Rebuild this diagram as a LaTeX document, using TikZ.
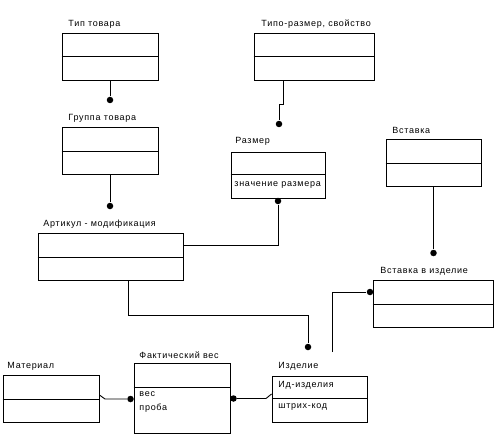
\documentclass[tikz,border=0pt]{standalone}
\usepackage{fontspec}
\setmainfont{Liberation Sans}[LetterSpace=8]
\usetikzlibrary{positioning}
\begin{document}
\begin{tikzpicture}[x=1pt, y=-1pt, line width=0.9pt,
    entity/.style={draw, rectangle, inner sep=0pt},
    dot/.style={circle, fill, inner sep=0pt, minimum size=6.5pt},
    enttitle/.style={anchor=west, inner sep=0pt, font=\fontsize{9}{10}\selectfont},
    attr/.style={anchor=west, inner sep=0pt, font=\fontsize{9}{10}\selectfont}]
  \useasboundingbox (0,0) rectangle (496,436);

  \node [entity, minimum width=96pt, minimum height=47pt] (tip) at (110,56.5) {};
  \draw (tip.west |- 0,56) -- (tip.east |- 0,56);
  \node [enttitle] (tipname) at (68,24) {Тип товара};

  \node [entity, minimum width=96pt, minimum height=47pt] (grp) at (110,150.5) {};
  \draw (grp.west |- 0,151) -- (grp.east |- 0,151);
  \node [enttitle] (grpname) at (68,118) {Группа товара};

  \node [entity, minimum width=120pt, minimum height=47pt] (tipo) at (314,56.5) {};
  \draw (tipo.west |- 0,56) -- (tipo.east |- 0,56);
  \node [enttitle] (tiponame) at (261,24) {Типо-размер, свойство};

  \node [entity, minimum width=94pt, minimum height=46pt] (razm) at (278,175) {};
  \draw (razm.west |- 0,174) -- (razm.east |- 0,174);
  \node [enttitle] (razmname) at (235,141) {Размер};
  \node [attr] (razmval) at (234,185) {значение размера};

  \node [entity, minimum width=95pt, minimum height=47pt] (vst) at (433.5,162.5) {};
  \draw (vst.west |- 0,163) -- (vst.east |- 0,163);
  \node [enttitle] (vstname) at (392,130) {Вставка};

  \node [entity, minimum width=120pt, minimum height=47pt] (vstizd) at (433,303.5) {};
  \draw (vstizd.west |- 0,304) -- (vstizd.east |- 0,304);
  \node [enttitle] (vstizdname) at (380,271) {Вставка в изделие};

  \node [entity, minimum width=145pt, minimum height=47pt] (art) at (110.5,256.5) {};
  \draw (art.west |- 0,257) -- (art.east |- 0,257);
  \node [enttitle] (artname) at (43,224) {Артикул - модификация};

  \node [entity, minimum width=95pt, minimum height=46pt] (izd) at (319.5,399) {};
  \draw (izd.west |- 0,398) -- (izd.east |- 0,398);
  \node [enttitle] (izdname) at (278,366) {Изделие};
  \node [attr] (izdid) at (278,385) {Ид-изделия};
  \node [attr] (izdcode) at (278,407) {штрих-код};

  \node [entity, minimum width=96pt, minimum height=70pt] (fakt) at (182,398) {};
  \draw (fakt.west |- 0,387) -- (fakt.east |- 0,387);
  \node [enttitle] (faktname) at (139,355) {Фактический вес};
  \node [attr] (faktves) at (139,394) {вес};
  \node [attr] (faktproba) at (139,408) {проба};

  \node [entity, minimum width=96pt, minimum height=47pt] (mat) at (51,398.5) {};
  \draw (mat.west |- 0,399) -- (mat.east |- 0,399);
  \node [enttitle] (matname) at (7,366) {Материал};

  \node [dot] (d1) at (110,100) {};
  \node [dot] (d2) at (279,124) {};
  \node [dot] (d3) at (278,201) {};
  \node [dot] (d4) at (433.5,253) {};
  \node [dot] (d5) at (370,292) {};
  \node [dot] (d6) at (308,347) {};
  \node [dot] (d7) at (130.5,399) {};
  \node [dot] (d8) at (233.5,398.5) {};
  \node [dot] (d9) at (110,206) {};
  \coordinate (j2) at (279,104);
  \coordinate (c5) at (332,352);
  \coordinate (t7) at (105,399);
  \coordinate (t8) at (266,398.5);

  \draw (tip.south) -- (d1);
  \draw (grp.south) -- (d9);
  \draw (tipo.south -| 283,0) |- (j2) -- (d2);
  \draw (art.east |- 0,245) -| (d3);
  \draw (vst.south) -- (d4);
  \draw (c5) |- (d5);
  \draw (art.south -| 128,0) |- (d6 |- 0,315) -- (d6);
  \draw (mat.east |- 0,395) -- (t7) -- (d7);
  \draw (d8) -- (t8) -- (izd.west |- 0,394);
\end{tikzpicture}
\end{document}
